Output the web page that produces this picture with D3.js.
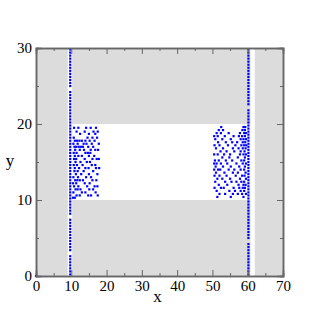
<!DOCTYPE html>
<html><head><meta charset="utf-8">
<script src="https://cdn.jsdelivr.net/npm/d3@7"></script>
<style>body{margin:0;background:#fff}svg{display:block}</style>
</head><body>
<script>
// ---- data ----
const xDomain = [0, 70];
const yDomain = [0, 30];
const xTicks = [0, 10, 20, 30, 40, 50, 60, 70];
const yTicks = [0, 10, 20, 30];
const minorTicksX = [5, 15, 25, 35, 45, 55, 65];
const minorTicksY = [5, 15, 25];
// shaded (gray) regions and white cut-outs: [x0, x1, y0, y1]
const grayRegions = [[0, 70, 0, 30]];
const whiteRegions = [[9.0, 10.25, 0, 30], [60.8, 62.0, 0, 30], [10.25, 60.8, 10, 20]];
// column of points near x = 10 and x = 60
const leftColumnX = 9.7;
const rightColumnX = 60.2;
const leftColumnY = [0.2,0.6,1.0,1.4,1.8,2.2,2.6,3.4,3.8,4.2,4.6,5.0,5.4,5.8,6.2,6.6,7.0,7.4,8.2,8.6,9.0,9.4,9.8,10.2,10.6,11.0,11.4,11.8,12.2,12.6,13.0,13.4,13.8,14.2,14.6,15.0,15.4,15.8,16.2,16.6,17.0,17.4,17.8,18.2,18.6,19.0,19.4,19.8,20.2,20.6,21.0,21.4,21.8,22.2,22.6,23.0,23.4,23.8,24.2,25.0,25.4,25.8,26.2,26.6,27.0,27.4,27.8,28.2,28.6,29.0,29.4,29.8];
const rightColumnY = [0.2,0.6,1.0,1.4,1.8,2.2,2.6,3.0,3.4,3.8,4.2,5.0,5.4,5.8,6.2,6.6,7.0,7.4,7.8,8.2,8.6,9.0,9.4,9.8,10.2,10.6,11.0,11.4,11.8,12.2,12.6,13.0,13.4,13.8,14.2,14.6,15.0,15.4,15.8,16.2,16.6,17.0,17.4,17.8,18.2,18.6,19.0,19.4,19.8,20.2,20.6,21.0,21.4,21.8,22.6,23.0,23.4,23.8,24.2,24.6,25.0,25.4,25.8,26.2,26.6,27.0,27.4,27.8,28.2,28.6,29.0,29.4,29.8];
// scattered clusters
const leftCluster = [
[10.8,19.5],[12.0,19.5],[14.2,19.5],[15.5,19.5],[17.0,19.5],
[11.5,19.0],[13.8,19.0],[16.3,19.0],[17.5,19.0],
[12.5,18.7],[15.0,18.7],[16.8,18.7],
[10.7,18.2],[14.6,18.2],[16.0,18.2],[17.3,18.2],
[11.0,17.8],[11.6,17.8],[12.3,17.8],[13.0,17.8],[14.0,17.8],[15.2,17.8],[16.6,17.8],
[10.6,17.4],[11.8,17.4],[13.5,17.4],[14.3,17.4],[15.8,17.4],[17.8,17.4],
[10.9,17.0],[11.4,17.0],[12.1,17.0],[12.7,17.0],[13.3,17.0],[14.8,17.0],[16.2,17.0],
[11.1,16.6],[12.4,16.6],[13.6,16.6],[15.5,16.6],[16.8,16.6],[17.6,16.6],
[10.7,16.2],[11.5,16.2],[14.0,16.2],[14.7,16.2],[15.4,16.2],
[11.0,15.8],[12.0,15.8],[13.0,15.8],[15.0,15.8],[16.5,15.8],
[10.8,15.4],[11.4,15.4],[13.8,15.4],[16.0,15.4],[17.2,15.4],[17.8,15.4],
[11.2,15.0],[12.6,15.0],[14.4,15.0],[15.3,15.0],
[10.7,14.6],[11.6,14.6],[13.2,14.6],[15.8,14.6],[16.8,14.6],
[11.0,14.2],[12.2,14.2],[14.0,14.2],[14.9,14.2],[17.0,14.2],[17.9,14.2],
[10.9,13.8],[11.8,13.8],[13.5,13.8],[16.2,13.8],
[11.3,13.4],[12.8,13.4],[15.0,13.4],[17.4,13.4],
[10.6,13.0],[11.9,13.0],[14.2,13.0],[15.6,13.0],
[11.1,12.6],[11.7,12.6],[12.4,12.6],[13.3,12.6],[16.0,12.6],[17.1,12.6],
[10.5,12.2],[11.4,12.2],[13.8,12.2],[15.2,12.2],
[10.8,11.8],[12.0,11.8],[14.5,11.8],[16.6,11.8],[17.4,11.8],
[11.2,11.4],[11.8,11.4],[12.6,11.4],[15.1,11.4],[16.2,11.4],
[10.6,11.0],[13.0,11.0],[14.0,11.0],[16.9,11.0],
[11.5,10.6],[12.4,10.6],[14.8,10.6],[15.6,10.6],[17.5,10.6],
[10.5,10.3],[11.0,10.3]
];
const rightCluster = [
[52.5,19.6],[58.8,19.6],[59.3,19.6],
[51.8,19.2],[53.0,19.2],[58.5,19.2],[59.2,19.2],
[51.2,18.8],[52.4,18.8],[54.6,18.8],[57.8,18.8],[59.0,18.8],[59.5,18.8],
[50.5,18.4],[51.5,18.4],[53.5,18.4],[56.0,18.4],[57.5,18.4],[58.4,18.4],[59.2,18.4],
[50.8,18.0],[52.8,18.0],[55.2,18.0],[58.0,18.0],[58.8,18.0],[59.5,18.0],
[51.6,17.6],[53.8,17.6],[55.6,17.6],[57.0,17.6],[58.6,17.6],[59.3,17.6],
[50.6,17.2],[52.0,17.2],[54.4,17.2],[56.5,17.2],[58.2,17.2],[59.0,17.2],[59.6,17.2],
[51.0,16.8],[53.0,16.8],[55.8,16.8],[57.4,16.8],[58.6,16.8],[59.4,16.8],
[52.3,16.4],[54.0,16.4],[56.2,16.4],[58.0,16.4],[59.1,16.4],
[50.5,16.0],[51.5,16.0],[53.3,16.0],[55.0,16.0],[57.8,16.0],[58.8,16.0],[59.5,16.0],
[52.8,15.6],[54.8,15.6],[57.2,15.6],[59.2,15.6],
[50.7,15.2],[51.8,15.2],[53.8,15.2],[55.6,15.2],[58.2,15.2],[59.0,15.2],
[50.5,14.8],[51.2,14.8],[52.4,14.8],[54.2,14.8],[56.8,14.8],[58.6,14.8],[59.5,14.8],
[50.9,14.4],[53.0,14.4],[55.2,14.4],[57.6,14.4],[59.2,14.4],
[50.5,14.0],[51.6,14.0],[52.2,14.0],[54.6,14.0],[56.2,14.0],[58.0,14.0],[59.0,14.0],
[51.0,13.6],[53.4,13.6],[55.8,13.6],[57.2,13.6],[59.4,13.6],
[50.6,13.2],[52.0,13.2],[54.0,13.2],[56.6,13.2],[58.4,13.2],[59.1,13.2],
[51.4,12.8],[52.8,12.8],[55.0,12.8],[57.8,12.8],[59.5,12.8],
[50.8,12.4],[53.6,12.4],[55.4,12.4],[56.8,12.4],[58.2,12.4],[59.0,12.4],
[51.8,12.0],[54.2,12.0],[57.4,12.0],[58.8,12.0],[59.4,12.0],
[50.6,11.6],[52.4,11.6],[53.2,11.6],[56.0,11.6],[57.6,11.6],[58.6,11.6],[59.2,11.6],
[51.2,11.2],[54.8,11.2],[56.4,11.2],[58.0,11.2],[59.0,11.2],
[52.0,10.8],[53.6,10.8],[55.8,10.8],[57.2,10.8],[58.4,10.8],[59.5,10.8],
[51.4,10.4],[55.2,10.4],[58.8,10.4]
];
const extraPoints = [[0, 0]];
const xLabel = "x";
const yLabel = "y";

// ---- drawing ----
const W = 318, H = 326;
const m = {left: 36, right: 35, top: 48, bottom: 50};
const iw = W - m.left - m.right, ih = H - m.top - m.bottom;
const x = d3.scaleLinear().domain(xDomain).range([0, iw]);
const y = d3.scaleLinear().domain(yDomain).range([ih, 0]);

const svg = d3.select("body").append("svg").attr("width", W).attr("height", H);
const g = svg.append("g").attr("transform", `translate(${m.left},${m.top})`);

g.selectAll("rect.gray").data(grayRegions).join("rect")
  .attr("x", d => x(d[0])).attr("width", d => x(d[1]) - x(d[0]))
  .attr("y", d => y(d[3])).attr("height", d => y(d[2]) - y(d[3]))
  .attr("fill", "#dcdcdc");
g.selectAll("rect.white").data(whiteRegions).join("rect")
  .attr("x", d => x(d[0])).attr("width", d => x(d[1]) - x(d[0]))
  .attr("y", d => y(d[3])).attr("height", d => y(d[2]) - y(d[3]))
  .attr("fill", "#ffffff");

const pts = [
  ...leftColumnY.map(v => [leftColumnX, v]),
  ...rightColumnY.map(v => [rightColumnX, v]),
  ...leftCluster, ...rightCluster, ...extraPoints
];
const s = 2.2;
g.selectAll("rect.pt").data(pts).join("rect")
  .attr("x", d => x(d[0]) - s/2).attr("y", d => y(d[1]) - s/2)
  .attr("width", s).attr("height", s).attr("fill", "#0000ff");

const frame = "#666";
const font = "'Liberation Serif', 'DejaVu Serif', serif";
// axes
g.append("g").attr("transform", `translate(0,${ih})`)
  .call(d3.axisBottom(x).tickValues(xTicks).tickSize(-6).tickPadding(4).tickFormat(d3.format("d")));
g.append("g").attr("transform", `translate(0,${ih})`)
  .call(d3.axisBottom(x).tickValues(minorTicksX).tickSize(-3).tickFormat(""));
g.append("g")
  .call(d3.axisTop(x).tickValues(xTicks).tickSize(-6).tickFormat(""));
g.append("g")
  .call(d3.axisTop(x).tickValues(minorTicksX).tickSize(-3).tickFormat(""));
g.append("g")
  .call(d3.axisLeft(y).tickValues(yTicks).tickSize(-6).tickPadding(4).tickFormat(d3.format("d")));
g.append("g")
  .call(d3.axisLeft(y).tickValues(minorTicksY).tickSize(-3).tickFormat(""));
g.append("g").attr("transform", `translate(${iw},0)`)
  .call(d3.axisRight(y).tickValues(yTicks).tickSize(-6).tickFormat(""));
g.append("g").attr("transform", `translate(${iw},0)`)
  .call(d3.axisRight(y).tickValues(minorTicksY).tickSize(-3).tickFormat(""));

g.selectAll(".domain").attr("stroke", frame).attr("stroke-width", 1.5);
g.selectAll(".tick line").attr("stroke", frame).attr("stroke-width", 1);
g.selectAll(".tick text").attr("font-family", font).attr("font-size", 15).attr("fill", "#000");

svg.append("text").attr("x", m.left + iw/2 - 2).attr("y", 302)
  .attr("text-anchor", "middle").attr("font-family", font).attr("font-size", 17).text(xLabel);
svg.append("text").attr("x", 10).attr("y", 166)
  .attr("text-anchor", "middle").attr("font-family", font).attr("font-size", 17).text(yLabel);
</script>
</body></html>
